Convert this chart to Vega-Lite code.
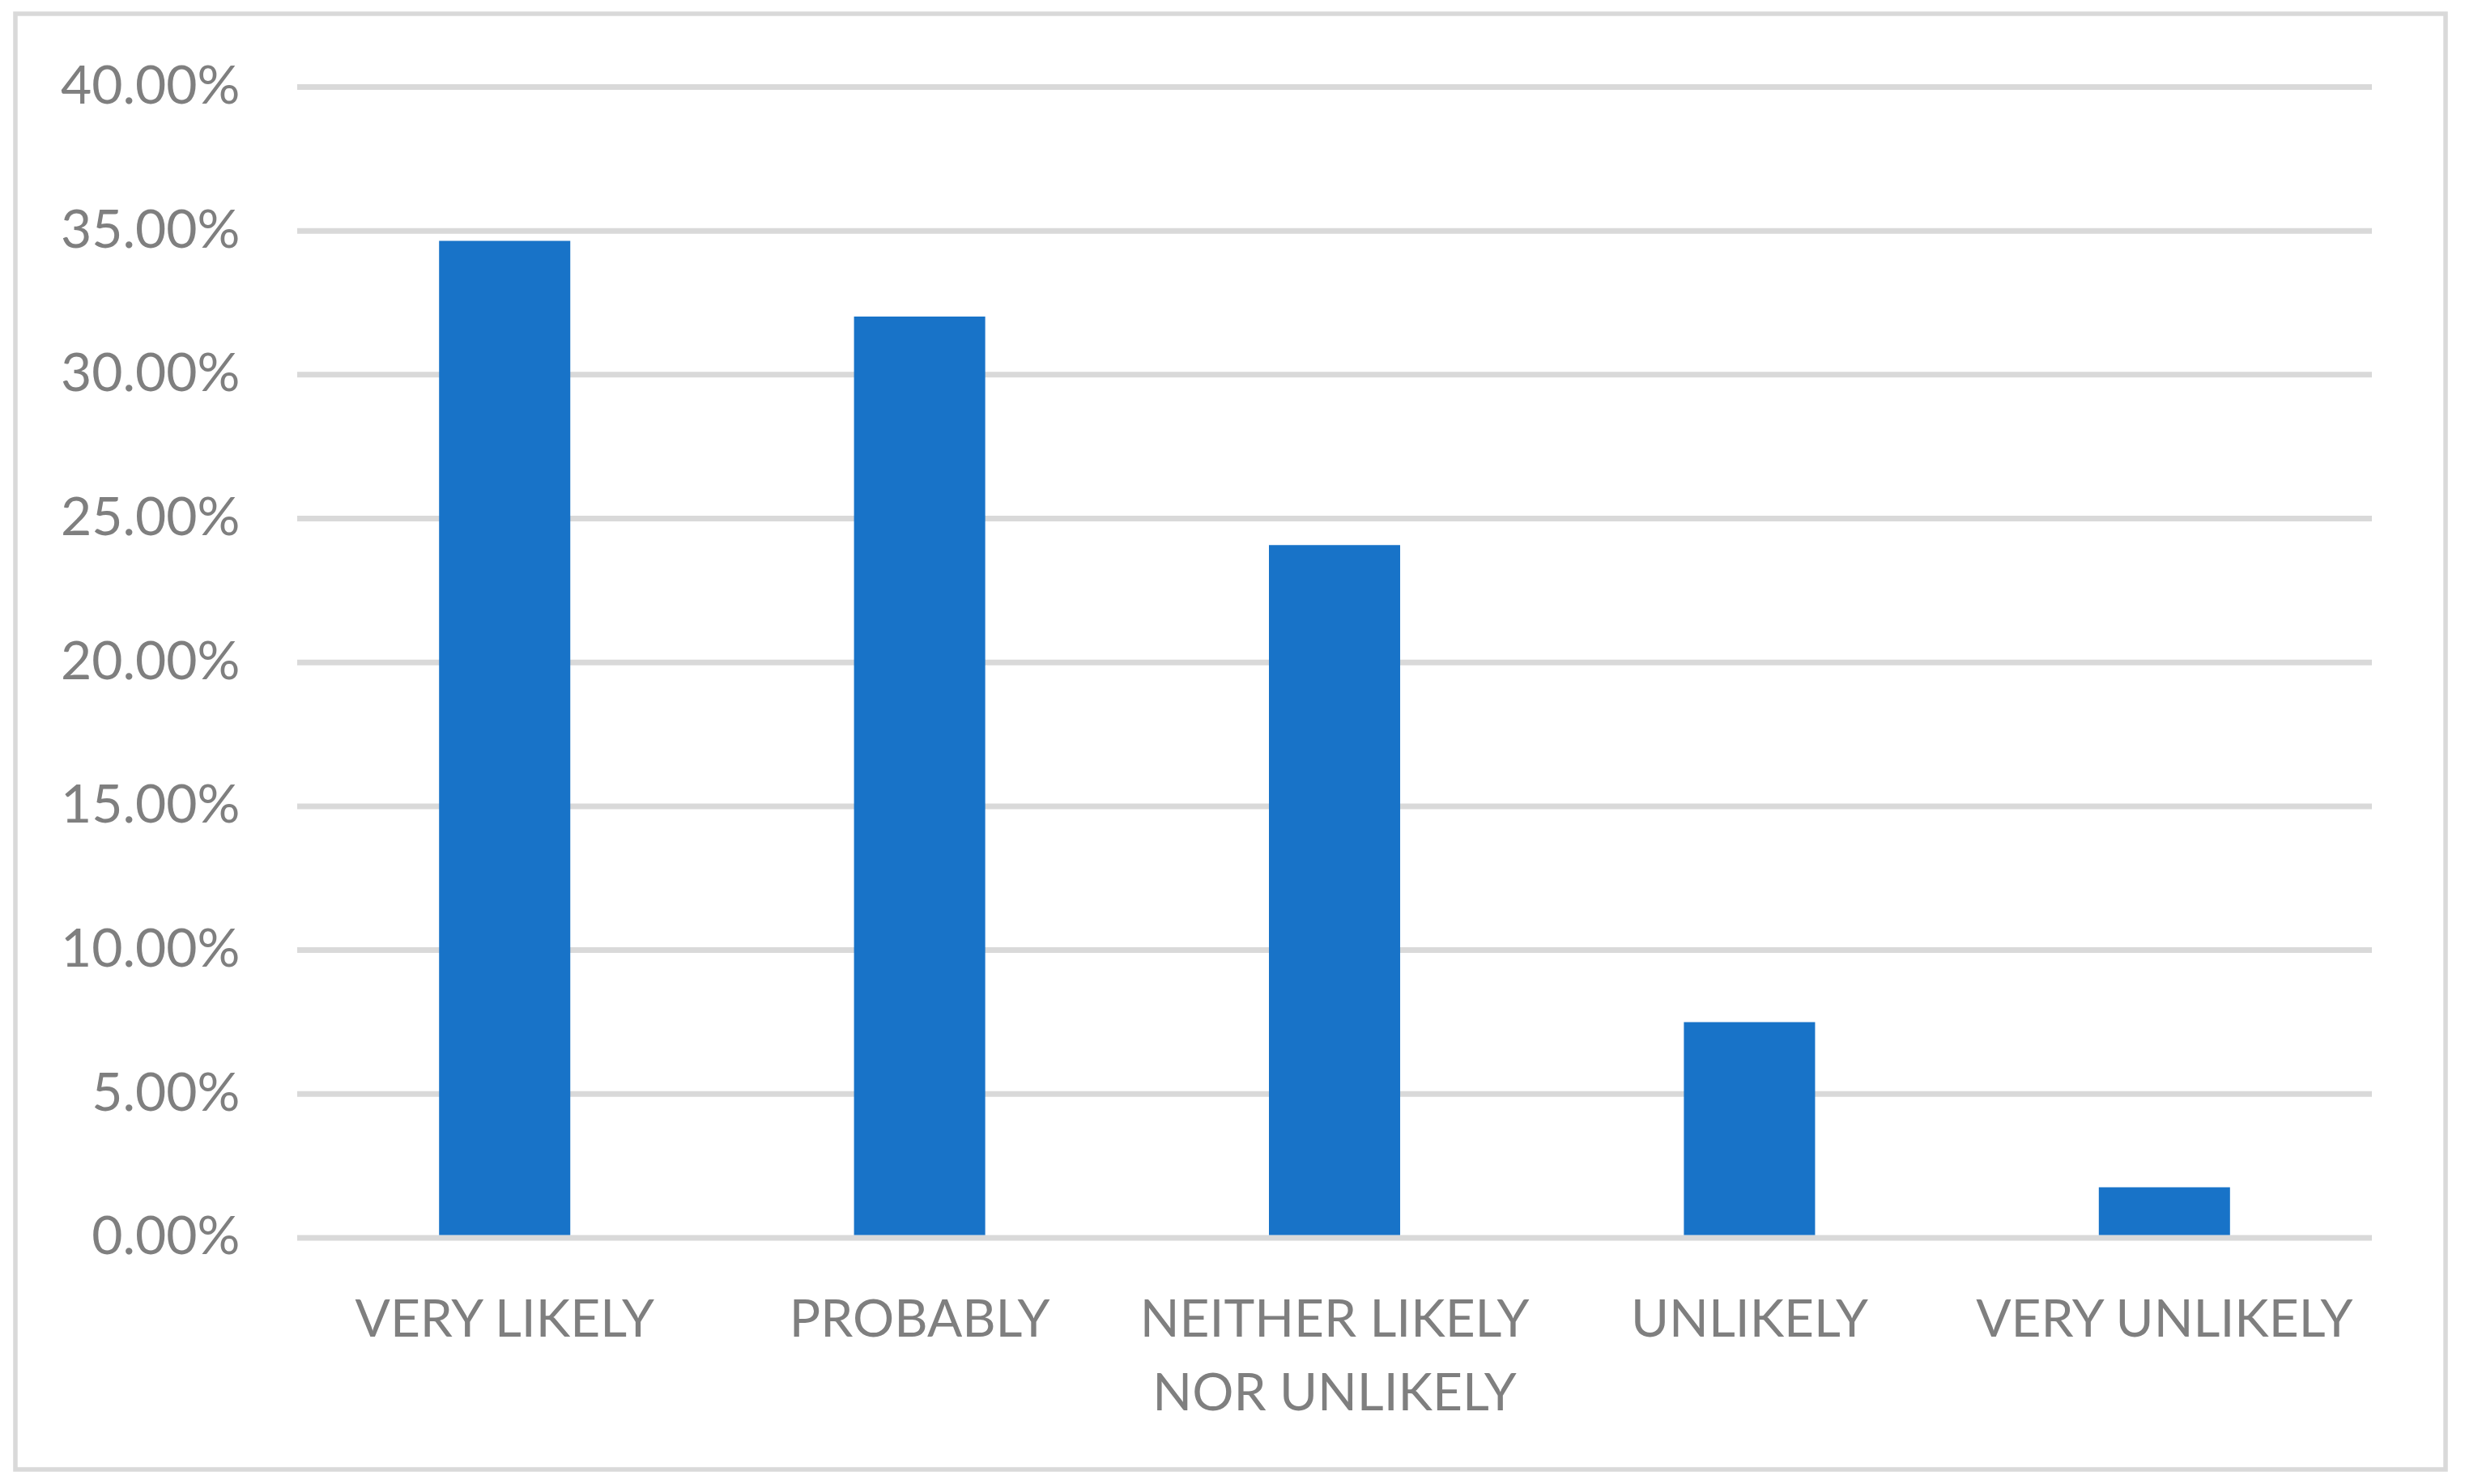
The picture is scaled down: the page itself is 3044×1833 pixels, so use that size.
{
  "$schema": "https://vega.github.io/schema/vega-lite/v6.json",
  "width": 3001,
  "height": 1798,
  "autosize": {"type": "none"},
  "padding": {"left": 19, "top": 17, "right": 24, "bottom": 18},
  "background": "white",
  "config": {"view": {"stroke": "#d9d9d9", "strokeWidth": 5.5}},
  "datasets": {
    "responses": [
      {"response": "VERY LIKELY", "share": 0.3465},
      {"response": "PROBABLY", "share": 0.3202},
      {"response": "NEITHER LIKELY NOR UNLIKELY", "share": 0.2408},
      {"response": "UNLIKELY", "share": 0.075},
      {"response": "VERY UNLIKELY", "share": 0.0176}
    ],
    "grid": [
      {"tick": 0}, {"tick": 0.05}, {"tick": 0.1}, {"tick": 0.15}, {"tick": 0.2},
      {"tick": 0.25}, {"tick": 0.3}, {"tick": 0.35}, {"tick": 0.4}
    ]
  },
  "layer": [
    {
      "data": {"name": "grid"},
      "mark": {"type": "rule", "color": "#d9d9d9", "strokeWidth": 7},
      "encoding": {
        "y": {
          "field": "tick",
          "type": "quantitative",
          "scale": {"domain": [-0.08048, 0.42546], "nice": false, "zero": false},
          "axis": {
            "values": [0, 0.05, 0.1, 0.15, 0.2, 0.25, 0.3, 0.35, 0.4],
            "format": ".2%",
            "grid": false,
            "domain": false,
            "ticks": false,
            "labelPadding": 0,
            "offset": -277,
            "title": null,
            "labelFont": "Lato",
            "labelFontSize": 66,
            "labelColor": "#7f7f7f",
            "labelBaseline": "middle",
            "labelLimit": 0,
            "labelFlush": false,
            "labelOverlap": false
          }
        },
        "x": {
          "datum": "VERY LIKELY",
          "type": "nominal",
          "bandPosition": -1.0815,
          "scale": {
            "type": "band",
            "domain": ["VERY LIKELY", "PROBABLY", "NEITHER LIKELY NOR UNLIKELY", "UNLIKELY", "VERY UNLIKELY"],
            "paddingInner": 0.6838,
            "paddingOuter": 0.7703,
            "align": 0.6628
          },
          "axis": {
            "title": null,
            "domain": false,
            "ticks": false,
            "grid": false,
            "labelPadding": 0,
            "offset": -165,
            "labelAngle": 0,
            "labelBaseline": "alphabetic",
            "labelFont": "Lato",
            "labelFontSize": 64,
            "labelColor": "#7f7f7f",
            "labelLineHeight": 91,
            "labelLimit": 0,
            "labelExpr": "datum.value == 'NEITHER LIKELY NOR UNLIKELY' ? ['NEITHER LIKELY', 'NOR UNLIKELY'] : datum.label"
          }
        },
        "x2": {"datum": "VERY UNLIKELY", "bandPosition": 2.0815}
      }
    },
    {
      "data": {"name": "responses"},
      "mark": {"type": "bar", "color": "#1873c8", "y2Offset": -3.5},
      "encoding": {
        "x": {"field": "response", "type": "nominal", "sort": null},
        "y": {"field": "share", "type": "quantitative"},
        "y2": {"datum": 0}
      }
    }
  ]
}
